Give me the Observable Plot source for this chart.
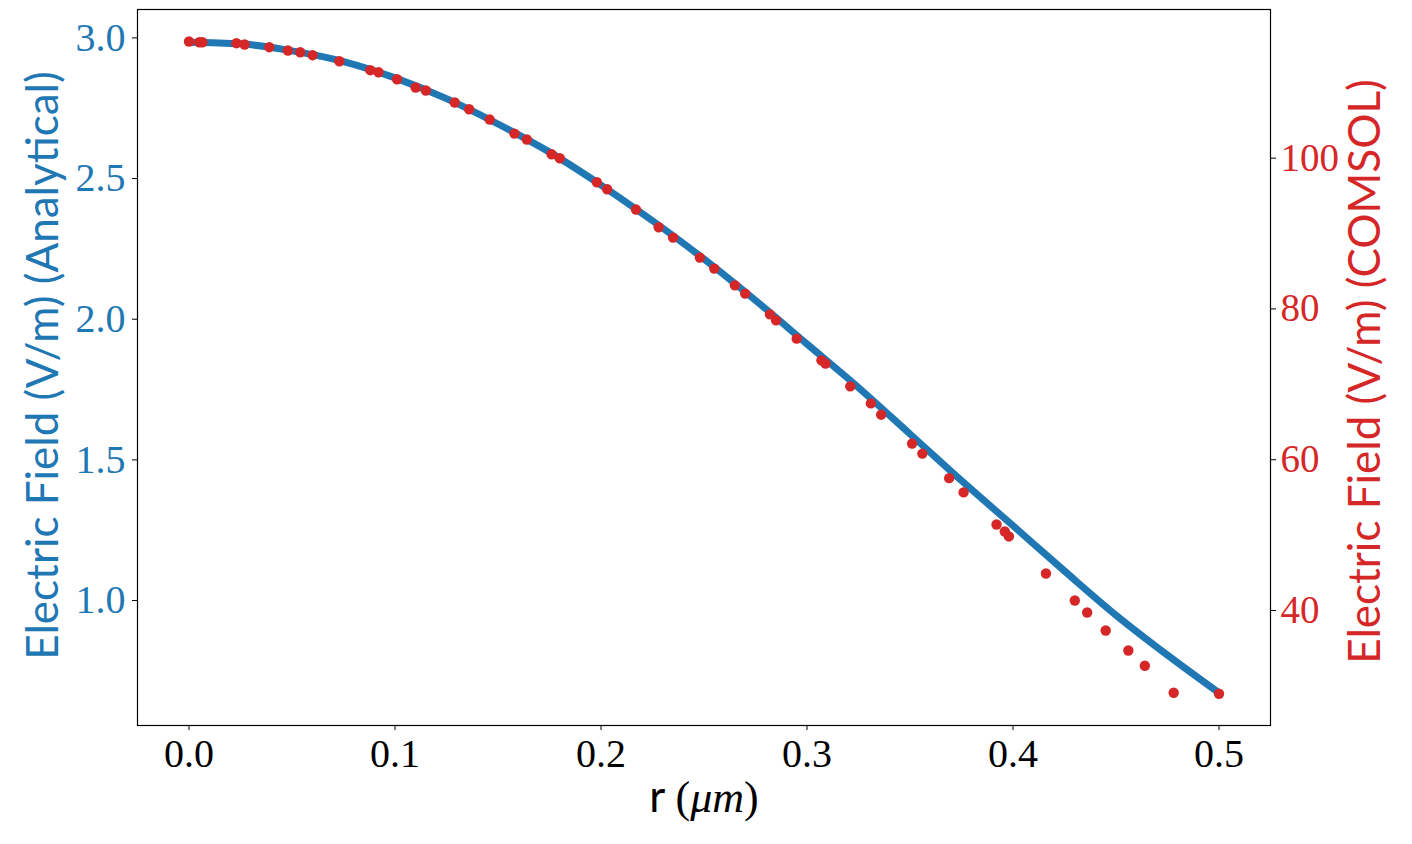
<!DOCTYPE html>
<html><head><meta charset="utf-8">
<script src="https://cdn.jsdelivr.net/npm/d3@7"></script>
<script src="https://cdn.jsdelivr.net/npm/@observablehq/plot@0.6"></script>
<style>html,body{margin:0;padding:0;background:#fff;}</style>
</head><body><div id="chart"></div>
<script>
// Analytical curve (left axis, V/m)
const rAnalytical = [0, 0.025, 0.05, 0.075, 0.1, 0.125, 0.15, 0.175, 0.2, 0.225, 0.25, 0.275, 0.3, 0.325, 0.35, 0.375, 0.4, 0.425, 0.45, 0.475, 0.5];
const eAnalytical = [2.985, 2.979, 2.954, 2.916, 2.858, 2.784, 2.694, 2.594, 2.477, 2.350, 2.214, 2.067, 1.912, 1.757, 1.592, 1.426, 1.266, 1.105, 0.948, 0.806, 0.672];

// COMSOL points (right axis, V/m)
const rComsol = [0.000, 0.005, 0.0065, 0.023, 0.027, 0.039, 0.048, 0.054, 0.060, 0.073, 0.088, 0.092, 0.101, 0.110, 0.115, 0.129, 0.136, 0.146, 0.158, 0.164, 0.176, 0.180, 0.198, 0.203, 0.217, 0.228, 0.235, 0.248, 0.255, 0.265, 0.270, 0.282, 0.285, 0.295, 0.307, 0.309, 0.321, 0.331, 0.336, 0.351, 0.356, 0.369, 0.376, 0.392, 0.396, 0.398, 0.416, 0.430, 0.436, 0.445, 0.456, 0.464, 0.478, 0.500];
const eComsol = [115.47, 115.38, 115.38, 115.25, 115.08, 114.72, 114.28, 114.05, 113.66, 112.86, 111.67, 111.40, 110.47, 109.37, 108.97, 107.38, 106.49, 105.12, 103.26, 102.47, 100.52, 99.99, 96.80, 95.87, 93.18, 90.83, 89.46, 86.81, 85.35, 83.13, 82.03, 79.28, 78.48, 76.06, 73.18, 72.74, 69.73, 67.47, 65.97, 62.14, 60.81, 57.55, 55.66, 51.41, 50.48, 49.82, 44.91, 41.32, 39.73, 37.34, 34.69, 32.66, 29.08, 28.95];

// Tick labels
const xTicks = [0.0, 0.1, 0.2, 0.3, 0.4, 0.5];
const leftTicks = [1.0, 1.5, 2.0, 2.5, 3.0];
const rightTicks = [40, 60, 80, 100];

const xLabel = "r (μm)";
const leftLabel = "Electric Field (V/m) (Analytical)";
const rightLabel = "Electric Field (V/m) (COMSOL)";

const blue = "#1f77b4";
const red = "#d62728";

const leftDomain = [0.5558, 3.101];
const rightDomain = [24.74, 119.72];
const toLeft = d3.scaleLinear(rightDomain, leftDomain);
const toRight = toLeft.invert;

const analytical = rAnalytical.map((r, i) => ({r, E: eAnalytical[i]}));
const comsol = rComsol.map((r, i) => ({r, E: eComsol[i]}));

const serif = "'Liberation Serif', 'DejaVu Serif', serif";
const sans = "Lato, 'Open Sans', sans-serif";

const chart = Plot.plot({
  width: 1412,
  height: 844,
  marginLeft: 137,
  marginRight: 142,
  marginTop: 9,
  marginBottom: 119,
  style: {background: "white", fontFamily: serif},
  x: {domain: [-0.025, 0.525]},
  y: {domain: leftDomain},
  marks: [
    Plot.line(analytical, {x: "r", y: "E", stroke: blue, strokeWidth: 7, curve: "monotone-x"}),
    Plot.dot(comsol, {x: "r", y: d => toLeft(d.E), fill: red, r: 5.2}),
    Plot.frame({stroke: "black", strokeWidth: 1.2}),
    Plot.axisX({ticks: xTicks, tickFormat: d3.format(".1f"), tickSize: 5, tickPadding: 8, fontSize: 40, fontFamily: serif, stroke: "black", fill: "black", label: null}),
    Plot.axisY({anchor: "left", ticks: leftTicks, tickFormat: d3.format(".1f"), tickSize: 5, tickPadding: 7, fontSize: 40, fontFamily: serif, stroke: "black", fill: blue, label: null}),
    Plot.axisY({anchor: "right", ticks: rightTicks.map(toLeft), tickFormat: d => String(Math.round(toRight(d))), tickSize: 5, tickPadding: 5, fontSize: 39, fontFamily: serif, stroke: "black", fill: red, label: null}),
    Plot.text([leftLabel], {text: d => d, frameAnchor: "left", textAnchor: "middle", dx: -94, dy: -2, rotate: -90, fill: blue, fontSize: 44, fontFamily: sans}),
    Plot.text([rightLabel], {text: d => d, frameAnchor: "right", textAnchor: "middle", dx: 95, dy: 4, rotate: -90, fill: red, fontSize: 44, fontFamily: sans}),
    Plot.text([xLabel], {text: d => d, frameAnchor: "bottom", textAnchor: "middle", dy: 86, fill: "black", fontSize: 44, fontFamily: sans})
  ]
});

document.getElementById("chart").appendChild(chart);

// Mixed fonts in the x label: sans "r", serif parentheses, italic μm
d3.select(chart).selectAll("text").filter(function() { return this.textContent === xLabel; })
  .each(function() {
    const t = d3.select(this);
    t.text(null);
    t.append("tspan").attr("font-family", sans).text("r ");
    t.append("tspan").attr("font-family", serif).text("(");
    t.append("tspan").attr("font-family", serif).attr("font-style", "italic").text("μm");
    t.append("tspan").attr("font-family", serif).text(")");
  });
</script></body></html>
